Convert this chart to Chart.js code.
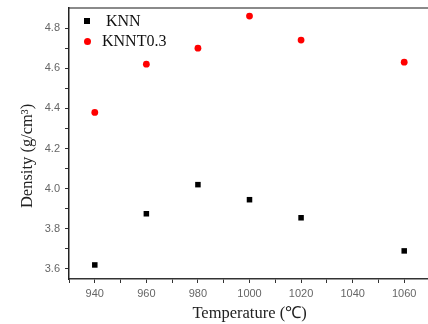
<!DOCTYPE html>
<html lang="en">
<head>
    <meta charset="UTF-8">
    <title>Density vs Temperature</title>
    <script src="https://cdn.jsdelivr.net/npm/chart.js"></script>
    <style>
        html, body { margin: 0; padding: 0; background: #fff; overflow: hidden; width: 428px; height: 324px; }
        #wrap { position: relative; width: 434px; height: 324px; }
        .legend { position: absolute; left: 82px; font-family: "Liberation Serif", "Times New Roman", serif; font-size: 16px; color: #111; }
        .legend .mk { position: absolute; left: 0; top: 50%; }
        .legend span.txt { position: absolute; white-space: nowrap; top: 0; }
    </style>
</head>
<body>
    <div id="wrap">
        <canvas id="densityChart" width="434" height="324"></canvas>
        <div class="legend" style="top: 12px; height: 18px;">
            <div class="mk" style="left: 2px; width: 6px; height: 6px; margin-top: -3px; background: #000;"></div>
            <span class="txt" style="left: 24px;">KNN</span>
        </div>
        <div class="legend" style="top: 32px; height: 18px;">
            <div class="mk" style="left: 2px; width: 7px; height: 7px; margin-top: -3px; border-radius: 50%; background: #f00;"></div>
            <span class="txt" style="left: 20px;">KNNT0.3</span>
        </div>
    </div>

    <script>
        const temperatures = [940, 960, 980, 1000, 1020, 1060];
        const knnDensity = [3.62, 3.875, 4.02, 3.945, 3.855, 3.69];
        const knnt03Density = [4.38, 4.62, 4.70, 4.86, 4.74, 4.63];

        const toPoints = (ys) => temperatures.map((t, i) => ({ x: t, y: ys[i] }));

        const tickFont = { family: 'Liberation Sans, Arial, sans-serif', size: 11 };
        const titleFont = { family: 'Liberation Serif, Times New Roman, serif', size: 16.5 };

        const ctx = document.getElementById('densityChart').getContext('2d');
        new Chart(ctx, {
            type: 'scatter',
            data: {
                datasets: [
                    {
                        label: 'KNN',
                        data: toPoints(knnDensity),
                        pointStyle: 'rect',
                        pointRadius: 3.9,
                        backgroundColor: '#000',
                        borderColor: '#000',
                        borderWidth: 0
                    },
                    {
                        label: 'KNNT0.3',
                        data: toPoints(knnt03Density),
                        pointStyle: 'circle',
                        pointRadius: 3.4,
                        backgroundColor: '#f00',
                        borderColor: '#f00',
                        borderWidth: 0
                    }
                ]
            },
            options: {
                responsive: false,
                animation: false,
                layout: { padding: { top: 0, right: 2, bottom: 0, left: 0 } },
                plugins: {
                    legend: { display: false },
                    tooltip: { enabled: false }
                },
                scales: {
                    x: {
                        type: 'linear',
                        min: 930,
                        max: 1070,
                        afterFit: (s) => { s.height = 45; },
                        afterBuildTicks: (s) => {
                            const t = [];
                            for (let v = 930; v <= 1070; v += 10) t.push({ value: v });
                            s.ticks = t;
                        },
                        grid: { display: true, drawOnChartArea: false, tickLength: 4, tickColor: '#333' },
                        border: { color: '#333', width: 1.5 },
                        ticks: {
                            font: tickFont,
                            color: '#666',
                            padding: 4,
                            maxRotation: 0,
                            autoSkip: false,
                            callback: (v) => (v % 20 === 0 && v >= 940 && v <= 1060) ? v : ''
                        },
                        title: {
                            display: true,
                            text: 'Temperature (\u2103)',
                            font: titleFont,
                            color: '#222',
                            padding: { top: 0, bottom: 0 }
                        }
                    },
                    x2: {
                        type: 'linear',
                        position: 'top',
                        min: 930,
                        max: 1070,
                        afterFit: (s) => { s.height = 8; },
                        grid: { display: false, drawTicks: false },
                        border: { display: true, color: '#8a8a8a', width: 2 },
                        ticks: { display: false }
                    },
                    y: {
                        min: 3.55,
                        max: 4.9,
                        afterFit: (s) => { s.width = 69; s.paddingTop = 0; },
                        afterBuildTicks: (s) => {
                            const t = [];
                            for (let i = 36; i <= 48; i++) t.push({ value: i / 10 });
                            s.ticks = t;
                        },
                        grid: { display: true, drawOnChartArea: false, tickLength: 4, tickColor: '#333' },
                        border: { color: '#222', width: 1.5 },
                        ticks: {
                            font: tickFont,
                            color: '#666',
                            padding: 5,
                            autoSkip: false,
                            callback: (v) => {
                                const k = Math.round(v * 10);
                                return k % 2 === 0 ? (k / 10).toFixed(1) : '';
                            }
                        },
                        title: {
                            display: true,
                            text: 'Density (g/cm\u00b3)\u2002\u2002\u2002',
                            font: titleFont,
                            color: '#222',
                            padding: { top: 18, bottom: 0 }
                        }
                    }
                }
            }
        });
    </script>
</body>
</html>
